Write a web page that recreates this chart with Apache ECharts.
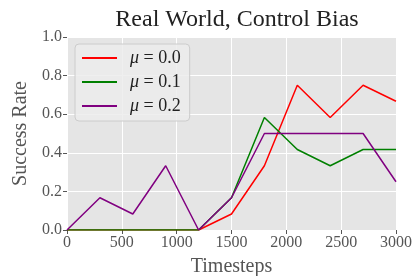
<!DOCTYPE html>
<html>
<head>
<meta charset="utf-8">
<script src="https://cdn.jsdelivr.net/npm/echarts@6/dist/echarts.min.js"></script>
<style>
  html, body { margin: 0; padding: 0; background: #fff; }
  #chart { width: 416px; height: 276px; }
</style>
</head>
<body>
<div id="chart"></div>
<script>
// timesteps and success rates
var steps = [0, 300, 600, 900, 1200, 1500, 1800, 2100, 2400, 2700, 3000];
var mu00 = [0, 0, 0, 0, 0, 0.083, 0.333, 0.75, 0.583, 0.75, 0.667];
var mu01 = [0, 0, 0, 0, 0, 0.167, 0.583, 0.417, 0.333, 0.417, 0.417];
var mu02 = [0, 0.167, 0.083, 0.333, 0, 0.167, 0.5, 0.5, 0.5, 0.5, 0.25];
var seriesNames = ["μ = 0.0", "μ = 0.1", "μ = 0.2"];
var seriesColors = ["#ff0000", "#008000", "#800080"];

function pairs(vals) {
  return steps.map(function (s, i) { return [s, vals[i]]; });
}

var serif = "Liberation Serif";
var chart = echarts.init(document.getElementById("chart"));

var option = {
  animation: false,
  title: {
    text: "Real World, Control Bias",
    left: 232, top: 3, textAlign: "center",
    textStyle: { fontFamily: serif, fontSize: 24, fontWeight: "normal", color: "#222" }
  },
  grid: {
    left: 67, right: 20, top: 37, bottom: 46, outerBoundsMode: "none",
    show: true, backgroundColor: "#e5e5e5", borderWidth: 0
  },
  legend: {
    orient: "vertical", left: 75, top: 44,
    icon: "rect", itemWidth: 35, itemHeight: 2, itemGap: 6,
    padding: [5, 9, 6, 7],
    backgroundColor: "rgba(236,236,236,0.85)", borderColor: "#cccccc", borderWidth: 1, borderRadius: 4,
    data: seriesNames,
    formatter: function (n) { return "{i|μ}{r|" + n.slice(1) + "}"; },
    textStyle: {
      padding: [0, 0, 0, 8],
      rich: {
        i: { fontFamily: serif, fontStyle: "italic", fontSize: 18, color: "#222" },
        r: { fontFamily: serif, fontSize: 18, color: "#222" }
      }
    }
  },
  xAxis: {
    type: "value", min: 0, max: 3000, interval: 500,
    name: "Timesteps", nameLocation: "middle", nameGap: 27,
    nameTextStyle: { fontFamily: serif, fontSize: 20, color: "#555" },
    axisLine: { show: false },
    axisTick: { show: true, length: 4, lineStyle: { color: "#555" } },
    axisLabel: { fontFamily: serif, fontSize: 16, color: "#555", margin: 5,
      formatter: function (v) { return String(v); } },
    splitLine: { lineStyle: { color: "#ffffff", width: 1 } }
  },
  yAxis: {
    type: "value", min: 0, max: 1, interval: 0.2,
    name: "Success Rate", nameLocation: "middle", nameGap: 34,
    nameTextStyle: { fontFamily: serif, fontSize: 20, color: "#555" },
    axisLine: { show: false },
    axisTick: { show: true, length: 4, lineStyle: { color: "#555" } },
    axisLabel: { fontFamily: serif, fontSize: 16, color: "#555", margin: 5,
      formatter: function (v) { return v.toFixed(1); } },
    splitLine: { lineStyle: { color: "#ffffff", width: 1 } }
  },
  series: [mu00, mu01, mu02].map(function (vals, k) {
    return {
      name: seriesNames[k], type: "line", data: pairs(vals),
      symbol: "none", showSymbol: false,
      lineStyle: { color: seriesColors[k], width: 1.5 },
      itemStyle: { color: seriesColors[k] },
      z: 2 + k
    };
  })
};

chart.setOption(option);
</script>
</body>
</html>
